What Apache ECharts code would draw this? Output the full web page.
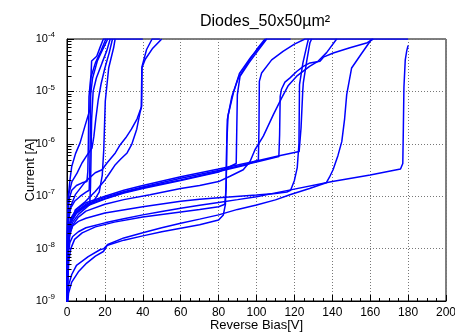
<!DOCTYPE html>
<html>
<head>
<meta charset="utf-8">
<script src="https://cdn.jsdelivr.net/npm/echarts@6/dist/echarts.min.js"></script>
<style>
  html, body { margin: 0; padding: 0; background: #fff; }
  #chart { width: 455px; height: 332px; }
</style>
</head>
<body>
<div id="chart"></div>
<script>
// I-V curves of 50x50 um^2 diodes: [reverse bias (V), current (A)]
const chartTitle = 'Diodes_50x50µm²';
const xTitle = 'Reverse Bias[V]';
const yTitle = 'Current [A]';

// Early breakdown diodes (< 50 V)
const diodeL1 = [[0,6e-10],[0.15,2e-8],[0.4,6e-8],[0.8,1.1e-7],[1.6,2.1e-7],[2.5,3.7e-7],[4.5,6.5e-7],[6.9,1.04e-6],[9.5,2.2e-6],[12.1,4.5e-6],[12.5,1.5e-5],[13,3.8e-5],[15.7,4.7e-5],[17.5,7e-5],[19.2,1e-4],[40,1e-4]];
const diodeL2 = [[0,6e-10],[0.2,1.5e-8],[0.6,5e-8],[1.2,9e-8],[2.5,1.3e-7],[5,1.6e-7],[8,1.8e-7],[10.5,1.9e-7],[11,3e-7],[11.3,1.2e-6],[11.6,8e-6],[12.5,1.8e-5],[15,3.5e-5],[18,6e-5],[20.5,1e-4]];
const diodeL3 = [[0,6e-10],[0.3,1.2e-8],[0.8,3.5e-8],[2,6e-8],[4,8e-8],[7,1e-7],[10,1.2e-7],[11.7,1.3e-7],[12,3e-7],[12.2,1e-6],[12.5,9e-6],[13.5,1.8e-5],[16,3.8e-5],[19,6.5e-5],[21.5,1e-4]];
const diodeL4 = [[0,6e-10],[0.4,8e-9],[1.2,2.5e-8],[3,4.2e-8],[6,5.5e-8],[10,6.5e-8],[12,7e-8],[12.4,1.5e-7],[12.7,6e-7],[13,3e-6],[13.8,1e-5],[15.5,1.8e-5],[18.5,3.5e-5],[21,6e-5],[22.8,1e-4]];
const diodeL5 = [[0,6e-10],[0.25,3e-8],[0.9,1.07e-7],[2.6,1.9e-7],[5.3,2.75e-7],[7.9,4.3e-7],[10.5,6e-7],[13.2,8.3e-7],[14.2,1.4e-6],[15.2,3e-6],[16.5,7e-6],[18,1.4e-5],[20,2.8e-5],[22.3,5.5e-5],[24,1e-4]];
const diodeL6 = [[0,6e-10],[0.5,1e-8],[1.5,2.2e-8],[3,3.2e-8],[6,4.5e-8],[10,6e-8],[14,8e-8],[17,1.2e-7],[18.6,2.5e-7],[19.4,7.7e-7],[20.2,6.5e-6],[22,2.8e-5],[24.6,6.8e-5],[25.4,1e-4]];
const diodeL7 = [[0,6e-10],[0.5,1.3e-8],[1.5,2.8e-8],[4.4,5.5e-8],[9.7,7.9e-8],[14.9,1.23e-7],[19.4,1.9e-7],[22,2.6e-7],[25.5,4e-7],[28.1,5e-7],[31.7,6.7e-7],[34.1,9.6e-7],[36.8,1.9e-6],[38.5,3.9e-6],[39.4,5.2e-6],[39.6,3e-5],[42,6.3e-5],[44.9,1e-4],[49,1e-4]];
const diodeL8 = [[0,6e-10],[0.3,2e-8],[1.2,5.5e-8],[4.4,1.07e-7],[9.7,1.9e-7],[14.9,2.8e-7],[18.5,3.2e-7],[21.1,4.3e-7],[25.5,6.7e-7],[28.1,9.6e-7],[31,1.3e-6],[34,1.9e-6],[37,3e-6],[39.2,5e-6],[39.5,2.8e-5],[41.3,4.1e-5],[45,6.5e-5],[50,1e-4]];

// Late breakdown diodes (80 - 180 V)
const diodeP1 = [[0,6e-10],[0.5,1.5e-9],[1,2.1e-9],[2.5,3.2e-9],[5,4.8e-9],[11.2,7e-9],[17.4,9.5e-9],[19.5,1e-8],[21,1.15e-8],[30,1.45e-8],[40,1.75e-8],[50,2.1e-8],[60,2.45e-8],[70,2.85e-8],[80,3.5e-8],[82.5,4.4e-8],[83.6,7e-8],[84,2e-7],[84.3,1e-6],[84.6,2.9e-6],[87,8e-6],[90.4,1.8e-5],[96.6,4.1e-5],[101,7e-5],[104.5,1e-4]];
const diodeM = [[0,6e-10],[0.4,2.5e-9],[1,6e-9],[2,1e-8],[4,1.5e-8],[8,2e-8],[15,2.6e-8],[25,3.2e-8],[40,4e-8],[60,5e-8],[70,5.6e-8],[80,6.3e-8],[83.3,7e-8],[84,1.5e-7],[84.3,1e-6],[85,3.5e-6],[88,1e-5],[91,2.2e-5],[97,4.5e-5],[103,8e-5],[105,1e-4],[118,1e-4]];
const diodeB = [[0,6e-10],[0.2,3.5e-9],[0.5,1.2e-8],[1,2e-8],[2,3.1e-8],[5,4.7e-8],[10,6.4e-8],[20,8.8e-8],[30,1.15e-7],[40,1.4e-7],[60,2e-7],[80,2.9e-7],[89.3,4.2e-7],[89.6,2e-6],[89.9,8.7e-6],[91.3,1.94e-5],[96,3.5e-5],[100,5.5e-5],[105.4,1e-4]];
const diodeG1 = [[0,6e-10],[0.3,3e-9],[0.7,1e-8],[1.5,1.8e-8],[3,2.8e-8],[6,4e-8],[10,5.2e-8],[20,7e-8],[30,8.6e-8],[43.8,1.07e-7],[60,1.4e-7],[70,1.6e-7],[80,1.9e-7],[86,2.4e-7],[93,3.2e-7],[96.6,4.6e-7],[99.2,7.7e-7],[103.6,1.4e-6],[108.9,3.6e-6],[113.3,7.5e-6],[116.8,1.3e-5],[121.2,1.95e-5],[128,3e-5],[132.6,3.8e-5],[137,5.5e-5],[142.3,1e-4]];
const diodeG2 = [[0,6e-10],[0.2,4e-9],[0.5,1.3e-8],[1,2.2e-8],[2,3.3e-8],[5,4.9e-8],[10,6.7e-8],[20,9e-8],[30,1.18e-7],[40,1.45e-7],[60,2.05e-7],[80,2.95e-7],[95,4e-7],[101,4.9e-7],[101.3,2e-6],[101.5,1.55e-5],[102.7,2.25e-5],[108,4e-5],[114,5.8e-5],[120,8e-5],[125.6,1e-4],[180,1e-4]];
const diodeU112 = [[0,6e-10],[0.2,4.5e-9],[0.5,1.4e-8],[1,2.4e-8],[2,3.5e-8],[5,5.2e-8],[10,7e-8],[20,9.5e-8],[30,1.22e-7],[40,1.5e-7],[60,2.2e-7],[80,3.1e-7],[100,4.5e-7],[111.8,5.7e-7],[112.2,1.5e-6],[112.5,8e-6],[113.2,1.1e-5],[115,1.5e-5],[117.7,1.81e-5],[121.2,2.4e-5],[124.7,3e-5],[128.2,3.5e-5],[133.5,3.75e-5],[135.3,4.5e-5],[140.5,5.4e-5],[149.3,6.8e-5],[158.5,8.5e-5],[161.6,1e-4]];
const diodeK = [[0,6e-10],[0.3,4e-9],[0.7,1.2e-8],[1.5,2e-8],[3,2.7e-8],[6,3.3e-8],[10,3.8e-8],[20,4.8e-8],[40,6.3e-8],[60,8e-8],[70,8.7e-8],[80,9.3e-8],[100,1.05e-7],[110,1.13e-7],[116,1.2e-7],[118,1.3e-7],[120,2e-7],[121.5,3.5e-7],[122.4,1e-6],[122.7,1.35e-5],[124.5,3.5e-5],[126.5,7.3e-5],[127.4,1e-4]];
const diodeU123 = [[0,6e-10],[0.2,5e-9],[0.5,1.5e-8],[1,2.6e-8],[2,3.8e-8],[5,5.6e-8],[10,7.5e-8],[20,1e-7],[30,1.3e-7],[40,1.6e-7],[60,2.35e-7],[80,3.3e-7],[100,4.7e-7],[112,5.9e-7],[122.5,7.1e-7],[123.5,2e-6],[124.4,1e-5],[124.7,1.45e-5],[126.5,3.8e-5],[128.2,8.5e-5],[129.1,1e-4]];
const diodeR2 = [[0,6e-10],[0.8,1.4e-9],[2.5,2.3e-9],[6,3.6e-9],[10.4,5.3e-9],[15,7.2e-9],[19.2,8.8e-9],[20.5,1.05e-8],[21.5,1.2e-8],[30,1.6e-8],[40,2e-8],[50,2.5e-8],[60,3.05e-8],[70,3.65e-8],[80,4.4e-8],[90,5.6e-8],[100,6.8e-8],[110,8.5e-8],[118,1.08e-7],[128,1.4e-7],[136.8,1.8e-7],[138.5,2.3e-7],[140.4,3.2e-7],[143,6e-7],[145,1.1e-6],[146.5,3e-6],[147.6,8.7e-6],[150.2,2.8e-5],[155,5e-5],[160.8,1e-4]];
const diodeR1 = [[0,6e-10],[0.3,3e-9],[0.7,8e-9],[1.5,1.3e-8],[3,1.7e-8],[6,2.1e-8],[10,2.5e-8],[20,3.1e-8],[30,3.7e-8],[40,4.4e-8],[50,5.1e-8],[60,5.9e-8],[70,6.7e-8],[80,7.6e-8],[90,8.6e-8],[100,9.8e-8],[118,1.32e-7],[140,1.9e-7],[160,2.55e-7],[176,3.3e-7],[177.2,4.2e-7],[177.5,2e-6],[177.8,1.2e-5],[178.5,4e-5],[179.3,6e-5],[180,7.5e-5]];

const curves = [diodeL1, diodeL2, diodeL3, diodeL4, diodeL5, diodeL6, diodeL7, diodeL8,
  diodeP1, diodeM, diodeB, diodeG1, diodeG2, diodeU112, diodeK, diodeU123, diodeR2, diodeR1];

// Axis ranges and log-axis minor tick multipliers
const xMin = 0, xMax = 200, xStep = 20;
const yMin = 1e-9, yMax = 1e-4;
const minorMultipliers = [2, 3, 4, 5, 6, 7, 8, 9];
const minorDecades = [-9, -8, -7, -6, -5];

const fontFamily = '"Liberation Sans", Arial, Helvetica, sans-serif';
const lineBlue = '#0000ff';

const yMinorTicks = [];
minorDecades.forEach(d => minorMultipliers.forEach(m => yMinorTicks.push([xMin, m * Math.pow(10, d)])));

const chart = echarts.init(document.getElementById('chart'), null, { renderer: 'canvas' });

const series = curves.map((c, i) => ({
  type: 'line',
  name: 'diode' + i,
  data: c,
  showSymbol: false,
  symbol: 'none',
  silent: true,
  clip: true,
  lineStyle: { color: lineBlue, width: 1.5 },
  z: 3
}));

// ROOT-style minor ticks on the log axis (2..9 per decade), drawn inside the frame
series.push({
  type: 'custom',
  silent: true,
  clip: false,
  data: yMinorTicks,
  z: 4,
  renderItem: function (params, api) {
    const p = api.coord([api.value(0), api.value(1)]);
    const x0 = Math.round(p[0]) + 0.5;
    const y0 = Math.round(p[1]) + 0.5;
    return {
      type: 'line',
      shape: { x1: x0, y1: y0, x2: x0 + 4, y2: y0 },
      style: { stroke: '#000', lineWidth: 1 }
    };
  }
});

chart.setOption({
  animation: false,
  backgroundColor: '#fff',
  title: {
    text: chartTitle,
    left: 260,
    top: 9,
    textAlign: 'center',
    textStyle: { fontFamily: fontFamily, fontSize: 16, fontWeight: 'normal', color: '#000' }
  },
  grid: {
    left: 67, right: 9, top: 39, bottom: 31,
    outerBoundsMode: 'none',
    containLabel: false,
    show: true, borderColor: '#000', borderWidth: 1, backgroundColor: 'transparent'
  },
  xAxis: {
    type: 'value',
    min: xMin, max: xMax, interval: xStep,
    name: xTitle,
    nameLocation: 'middle',
    nameGap: 18,
    nameMoveOverlap: false,
    nameTextStyle: { fontFamily: fontFamily, fontSize: 13, color: '#000' },
    axisLine: { show: true, lineStyle: { color: '#000', width: 1 } },
    axisTick: { show: true, inside: true, length: 6, lineStyle: { color: '#000' } },
    minorTick: { show: true, splitNumber: 4, length: 3, lineStyle: { color: '#000' } },
    axisLabel: { fontFamily: fontFamily, fontSize: 12, color: '#000', margin: 6 },
    splitLine: { show: true, lineStyle: { color: '#777', type: [1, 2], width: 1 } }
  },
  yAxis: {
    type: 'log',
    logBase: 10,
    min: yMin, max: yMax,
    name: yTitle,
    nameLocation: 'middle',
    nameRotate: 90,
    nameGap: 30,
    nameMoveOverlap: false,
    nameTextStyle: { fontFamily: fontFamily, fontSize: 13, color: '#000' },
    axisLine: { show: true, lineStyle: { color: '#000', width: 1 } },
    axisTick: { show: true, inside: true, length: 7, lineStyle: { color: '#000' } },
    axisLabel: {
      margin: 12,
      formatter: function (v) {
        const e = Math.round(Math.log10(v));
        return '{b|10}{s|' + e + '}';
      },
      rich: {
        b: { fontFamily: fontFamily, fontSize: 11, color: '#000' },
        s: { fontFamily: fontFamily, fontSize: 8, color: '#000', padding: [0, 0, 8, 0] }
      }
    },
    splitLine: { show: true, lineStyle: { color: '#777', type: [1, 2], width: 1 } }
  },
  series: series
});
</script>
</body>
</html>
